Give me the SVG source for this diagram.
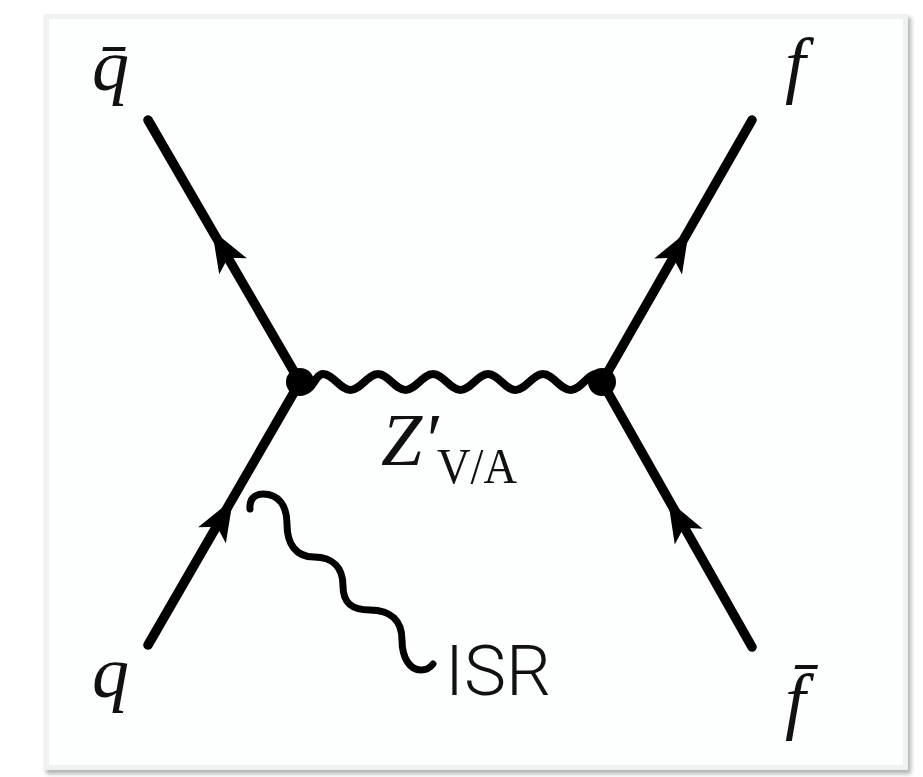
<svg xmlns="http://www.w3.org/2000/svg" xmlns:xlink="http://www.w3.org/1999/xlink" width="923" height="777" viewBox="0 0 923 777">
  <style>
    .fermion { stroke: #000; stroke-width: 9.5; stroke-linecap: round; fill: none; }
    .photon { stroke: #000; stroke-width: 8; fill: none; stroke-linecap: round; }
    .isr { stroke: #000; stroke-width: 7; fill: none; stroke-linecap: round; }
    .math { font-family: "Liberation Serif", serif; font-style: italic; font-size: 74px; fill: #111; }
    .roman { font-family: "Liberation Serif", serif; font-style: normal; font-size: 50px; fill: #111; }
    .sans { font-family: Roboto, "Liberation Sans", sans-serif; font-weight: 300; font-size: 70px; fill: #111; }
  </style>
  <defs>
    <filter id="shadow" x="-5%" y="-5%" width="110%" height="110%">
      <feGaussianBlur stdDeviation="2"/>
    </filter>
    <polygon id="arr" points="0,0 -42,-16 -32,0 -42,16" fill="#000"/>
  </defs>

  <g id="frame">
    <rect x="46" y="17" width="865" height="757" fill="#7d8280" opacity="0.6" filter="url(#shadow)"/>
    <rect x="44" y="14" width="864" height="756" fill="#eef2f1"/>
    <rect x="49" y="19" width="854" height="746" fill="#fdfefe"/>
  </g>

  <g id="connectors">
    <line class="fermion" x1="300" y1="382" x2="148" y2="120"/>
    <line class="fermion" x1="148" y1="645" x2="300" y2="382"/>
    <line class="fermion" x1="602" y1="382" x2="752" y2="120"/>
    <line class="fermion" x1="752" y1="647" x2="602" y2="382"/>
    <use xlink:href="#arr" href="#arr" transform="translate(212,230) rotate(-120.1)"/>
    <use xlink:href="#arr" href="#arr" transform="translate(233,499) rotate(-60)"/>
    <use xlink:href="#arr" href="#arr" transform="translate(689,230) rotate(-60.2)"/>
    <use xlink:href="#arr" href="#arr" transform="translate(668,500) rotate(-119.5)"/>
    <path class="photon" d="M298,384 C300,386 302,390 305.5,390 C312,390 316,374 323,374 C333,374 340.5,390 350.5,390 C360.5,390 368,374 378,374 C388,374 395.5,390 405.5,390 C415.5,390 423,374 433,374 C443,374 450.5,390 460.5,390 C470.5,390 478,374 488,374 C498,374 505.5,390 515.5,390 C525.5,390 533,374 543,374 C553,374 560.5,390 570.5,390 C580.5,390 588,374 596,374 C599,374 601,378 603,382"/>
    <path class="isr" d="M250,509 C249,499 255,494 263,494 C279,494 287,506 287,524 C287,544 296,557 314,557 C333,557 343,568 343,586 C343,602 351,610 370,610 C391,610 402,621 402,640 C402,658 410,670 421,670 C426,670 430,668 433,664"/>
  </g>

  <g id="vertex-left">
    <circle cx="300" cy="382" r="14" fill="#000"/>
  </g>
  <g id="vertex-right">
    <circle cx="602" cy="382" r="14" fill="#000"/>
  </g>

  <g id="qbar">
    <text class="math" x="92" y="90">q̄</text>
  </g>
  <g id="f-top">
    <text class="math" x="785" y="89">f</text>
  </g>
  <g id="q-bottom">
    <text class="math" x="92" y="697">q</text>
  </g>
  <g id="fbar">
    <text class="math" x="785" y="725">f̄</text>
  </g>
  <g id="zprime-label">
    <text class="math" x="381" y="465">Z′</text>
    <text class="roman" x="437" y="483" textLength="80" lengthAdjust="spacingAndGlyphs">V/A</text>
  </g>
  <g id="isr-label">
    <text class="sans" x="445" y="695" textLength="106" lengthAdjust="spacingAndGlyphs">ISR</text>
  </g>
</svg>
